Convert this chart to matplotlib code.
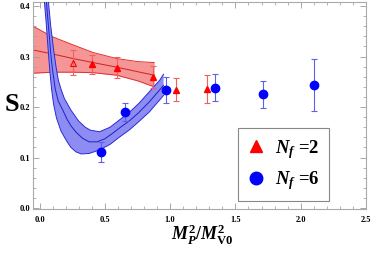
import matplotlib
matplotlib.use('Agg')
import matplotlib.pyplot as plt
from matplotlib.lines import Line2D
from matplotlib.ticker import MultipleLocator

plt.rcParams['font.family'] = ['Liberation Serif', 'DejaVu Serif']
plt.rcParams['font.weight'] = 'bold'
plt.rcParams['mathtext.fontset'] = 'custom'
plt.rcParams['mathtext.rm'] = 'Liberation Serif:bold'
plt.rcParams['mathtext.bf'] = 'Liberation Serif:bold'
plt.rcParams['mathtext.it'] = 'Liberation Serif:italic:bold'

# Nf=2 lattice points (first one drawn open)
nf2_x = [0.257, 0.405, 0.595, 0.870, 1.043, 1.280]
nf2_s = [0.288, 0.285, 0.278, 0.259, 0.234, 0.235]
nf2_err = [0.024, 0.019, 0.021, 0.022, 0.023, 0.028]

# Nf=6 lattice points
nf6_x = [0.473, 0.653, 0.972, 1.342, 1.712, 2.105]
nf6_s = [0.111, 0.190, 0.234, 0.238, 0.225, 0.244]
nf6_err = [0.020, 0.018, 0.026, 0.027, 0.027, 0.052]

# Nf=2 fit band
red_x = [-0.05, 0.10, 0.257, 0.41, 0.59, 0.75, 0.878]
red_hi = [0.360, 0.339, 0.323, 0.308, 0.296, 0.290, 0.288]
red_mid = [0.313, 0.305, 0.296, 0.288, 0.279, 0.270, 0.263]
red_lo = [0.267, 0.269, 0.269, 0.268, 0.263, 0.252, 0.240]

# Nf=6 fit band
blue_mid_x = [0.046, 0.060, 0.075, 0.088, 0.100, 0.120, 0.143, 0.178, 0.210,
              0.240, 0.280, 0.330, 0.380, 0.440, 0.500, 0.560, 0.610, 0.690,
              0.760, 0.840, 0.920, 0.950]
blue_mid = [0.430, 0.385, 0.340, 0.300, 0.273, 0.236, 0.212, 0.194, 0.176,
            0.163, 0.150, 0.138, 0.131, 0.131, 0.137, 0.148, 0.158, 0.173,
            0.189, 0.210, 0.234, 0.243]
blue_hi_x = [0.062, 0.067, 0.085, 0.108, 0.126, 0.145, 0.165, 0.190, 0.240,
             0.300, 0.350, 0.390, 0.460, 0.540, 0.610, 0.690, 0.760, 0.840,
             0.920, 0.950]
blue_hi = [0.430, 0.412, 0.362, 0.313, 0.280, 0.252, 0.235, 0.217, 0.194,
           0.172, 0.160, 0.154, 0.151, 0.160, 0.174, 0.190, 0.207, 0.230,
           0.253, 0.265]
blue_lo_x = [0.030, 0.036, 0.050, 0.060, 0.070, 0.080, 0.092, 0.108, 0.130,
             0.165, 0.207, 0.240, 0.280, 0.320, 0.380, 0.460, 0.540, 0.610,
             0.690, 0.760, 0.840, 0.920, 0.950]
blue_lo = [0.430, 0.412, 0.370, 0.335, 0.300, 0.268, 0.236, 0.205, 0.178,
           0.152, 0.133, 0.120, 0.111, 0.107, 0.108, 0.115, 0.126, 0.140,
           0.155, 0.171, 0.190, 0.214, 0.223]

fig = plt.figure(figsize=(3.74, 2.56), dpi=100)
ax = fig.add_axes([33 / 374, 1 - 209 / 256, 333 / 374, 207 / 256])

# red band
ax.fill_between(red_x, red_lo, red_hi, color='#f59595', lw=0, zorder=1)
ax.plot(red_x, red_hi, color='#e03030', lw=0.7, zorder=2)
ax.plot(red_x, red_lo, color='#e03030', lw=0.7, zorder=2)
ax.plot(red_x, red_mid, color='#d02020', lw=0.7, zorder=2)

# blue band
ax.fill(blue_hi_x + blue_lo_x[::-1], blue_hi + blue_lo[::-1],
        color='#8c8cf2', lw=0, zorder=3)
ax.plot(blue_hi_x, blue_hi, color='#2a2ad8', lw=0.7, zorder=4)
ax.plot(blue_lo_x, blue_lo, color='#2a2ad8', lw=0.7, zorder=4)
ax.plot(blue_mid_x, blue_mid, color='#2020c8', lw=0.7, zorder=4)

# error bars
ax.errorbar(nf2_x, nf2_s, yerr=nf2_err, fmt='none', ecolor='#f06060',
            elinewidth=0.8, capsize=2, capthick=0.8, zorder=5)
ax.errorbar(nf6_x, nf6_s, yerr=nf6_err, fmt='none', ecolor='#6060e8',
            elinewidth=0.8, capsize=2, capthick=0.8, zorder=5)

# markers
ax.plot(nf2_x[:1], nf2_s[:1], '^', ms=4.5, mfc='none', mec='red', mew=0.8, zorder=6)
ax.plot(nf2_x[1:], nf2_s[1:], '^', ms=4.5, color='red', zorder=6)
ax.plot(nf6_x, nf6_s, 'o', ms=6, color='blue', zorder=6)

ax.set_xlim(-0.05, 2.5)
ax.set_ylim(-0.002, 0.408)
ax.xaxis.set_major_locator(MultipleLocator(0.5))
ax.xaxis.set_minor_locator(MultipleLocator(0.1))
ax.yaxis.set_major_locator(MultipleLocator(0.1))
ax.yaxis.set_minor_locator(MultipleLocator(0.02))
ax.xaxis.set_major_formatter(plt.FormatStrFormatter('%.1f'))
ax.yaxis.set_major_formatter(plt.FormatStrFormatter('%.1f'))
ax.tick_params(which='both', direction='in', top=True, right=True,
               color='#999999', labelsize=6)
ax.tick_params(which='major', length=4, width=0.6)
ax.tick_params(which='minor', length=2, width=0.5)
ax.tick_params(axis='x', pad=5)
ax.tick_params(axis='y', pad=2)
for lab in ax.get_xticklabels() + ax.get_yticklabels():
    lab.set_fontweight('bold')
for sp in ax.spines.values():
    sp.set_color('#aaaaaa')
    sp.set_linewidth(0.8)

ax.set_ylabel('S', fontsize=19, fontweight='bold', rotation=0, va='center', ha='center')
ax.yaxis.set_label_coords(-0.063, 0.507)
ax.set_xlabel(r'$M_P^2/M_{\mathrm{V0}}^2$', fontsize=13, va='center')
ax.xaxis.set_label_coords(0.508, -0.125)

handles = [Line2D([], [], ls='none', marker='^', ms=8, color='red'),
           Line2D([], [], ls='none', marker='o', ms=9, color='blue')]
leg = ax.legend(handles, [r'$N_f$ =2', r'$N_f$ =6'], loc='upper left',
                bbox_to_anchor=(0.615, 0.39), fontsize=13.5, frameon=True,
                fancybox=False, edgecolor='#888888', framealpha=1,
                handlelength=0.9, handletextpad=0.6, labelspacing=0.45,
                borderpad=0.5, borderaxespad=0)
leg.get_frame().set_linewidth(0.8)

fig.savefig('out.png', dpi=100)
